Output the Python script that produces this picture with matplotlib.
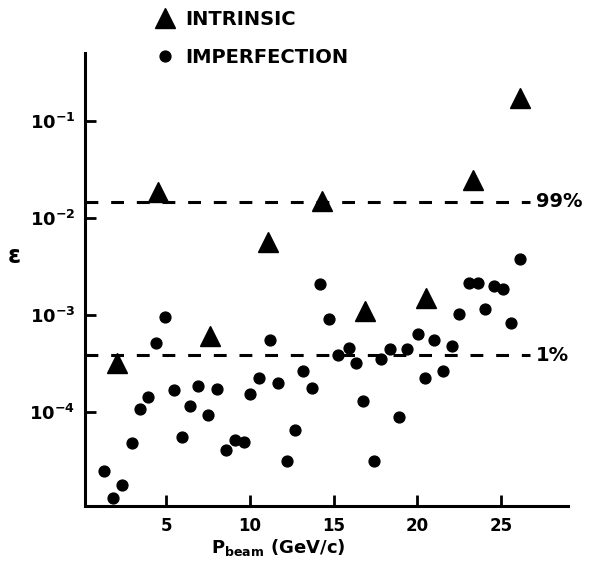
import matplotlib
matplotlib.use("Agg")
import matplotlib.pyplot as plt
from matplotlib.ticker import FixedLocator, FixedFormatter, NullLocator

# шрифты: всё жирное, включая mathtext
plt.rcParams['font.family'] = ['DejaVu Sans']
plt.rcParams['font.weight'] = 'bold'
plt.rcParams['mathtext.fontset'] = 'custom'
plt.rcParams['mathtext.rm'] = 'DejaVu Sans:bold'
plt.rcParams['mathtext.it'] = 'DejaVu Sans:bold'
plt.rcParams['mathtext.bf'] = 'DejaVu Sans:bold'
plt.rcParams['mathtext.default'] = 'bf'

# INTRINSIC (треугольники)
intr_p = [2.1, 4.5, 7.6, 11.1, 14.3, 16.9, 20.5, 23.3, 26.1]
intr_eps = [3.2e-4, 1.85e-2, 6.0e-4, 5.6e-3, 1.5e-2, 1.1e-3, 1.5e-3, 2.45e-2, 1.73e-1]

# IMPERFECTION (кружки)
imp_p = [1.32, 1.84, 2.39, 2.95, 3.45, 3.95, 4.40, 4.91, 5.45, 5.94,
         6.43, 6.93, 7.49, 8.03, 8.58, 9.09, 9.66, 10.0, 10.57, 11.21,
         11.7, 12.2, 12.7, 13.2, 13.73, 14.2, 14.7, 15.29, 15.9, 16.33,
         16.78, 17.42, 17.84, 18.37, 18.93, 19.4, 20.03, 20.46, 21.02, 21.52,
         22.06, 22.51, 23.06, 23.6, 24.05, 24.6, 25.13, 25.6, 26.13]
imp_eps = [2.4e-5, 1.29e-5, 1.74e-5, 4.7e-5, 1.07e-4, 1.41e-4, 5.1e-4, 9.5e-4, 1.68e-4, 5.5e-5,
           1.13e-4, 1.82e-4, 9.3e-5, 1.70e-4, 4.0e-5, 5.1e-5, 4.8e-5, 1.5e-4, 2.23e-4, 5.5e-4,
           1.96e-4, 3.1e-5, 6.5e-5, 2.6e-4, 1.74e-4, 2.1e-3, 9.1e-4, 3.8e-4, 4.55e-4, 3.2e-4,
           1.29e-4, 3.1e-5, 3.5e-4, 4.45e-4, 8.8e-5, 4.4e-4, 6.3e-4, 2.2e-4, 5.5e-4, 2.6e-4,
           4.8e-4, 1.02e-3, 2.14e-3, 2.14e-3, 1.14e-3, 2.0e-3, 1.86e-3, 8.3e-4, 3.8e-3]

# уровни 99% и 1%
level_vals = [1.47e-2, 3.8e-4]
level_labels = ['99%', '1%']

xticks = [5, 10, 15, 20, 25]
yticks = [1e-4, 1e-3, 1e-2, 1e-1]
ytick_labels = [r'$10^{-4}$', r'$10^{-3}$', r'$10^{-2}$', r'$10^{-1}$']

fig = plt.figure(figsize=(5.9, 5.65), dpi=100)
ax = fig.add_axes([0.144, 0.104, 0.819, 0.802])

tri, = ax.plot(intr_p, intr_eps, linestyle='none', marker='^', markersize=15,
               color='black', label='INTRINSIC')
dot, = ax.plot(imp_p, imp_eps, linestyle='none', marker='o', markersize=7.8,
               color='black', label='IMPERFECTION')

# пунктирные уровни с подписями справа
for v, lab in zip(level_vals, level_labels):
    ax.axhline(v, xmin=0, xmax=0.921, color='black', linewidth=2.2,
               linestyle=(0, (4.2, 4.2)))
    ax.text(0.934, v, lab, transform=ax.get_yaxis_transform(),
            va='center', ha='left', fontsize=14, fontweight='bold')

ax.set_yscale('log')
ax.set_xlim(0.16, 29.0)
ax.set_ylim(1.05e-5, 0.505)

ax.xaxis.set_major_locator(FixedLocator(xticks))
ax.yaxis.set_major_locator(FixedLocator(yticks))
ax.yaxis.set_major_formatter(FixedFormatter(ytick_labels))
ax.yaxis.set_minor_locator(NullLocator())

ax.tick_params(axis='both', direction='in', width=2, length=8, color='black')
ax.tick_params(axis='x', labelsize=12, pad=8)
ax.tick_params(axis='y', labelsize=13, pad=7)

for s in ['top', 'right']:
    ax.spines[s].set_visible(False)
for s in ['left', 'bottom']:
    ax.spines[s].set_linewidth(2.2)

ax.set_xlabel(r'$P_{beam}$ (GeV/c)', fontsize=13, fontweight='bold')
ax.xaxis.set_label_coords(0.40, -0.068)
ax.set_ylabel('ε', fontsize=17, fontweight='bold', rotation=0, va='center', ha='center')
ax.yaxis.set_label_coords(-0.147, 0.552)

ax.legend(handles=[tri, dot], loc='upper left', bbox_to_anchor=(0.261, 0.983),
          bbox_transform=fig.transFigure, frameon=False, fontsize=14,
          handlelength=1.1, handletextpad=0.5, labelspacing=1.0,
          borderpad=0, borderaxespad=0, numpoints=1)

fig.savefig('out.png', dpi=100, facecolor='white')
